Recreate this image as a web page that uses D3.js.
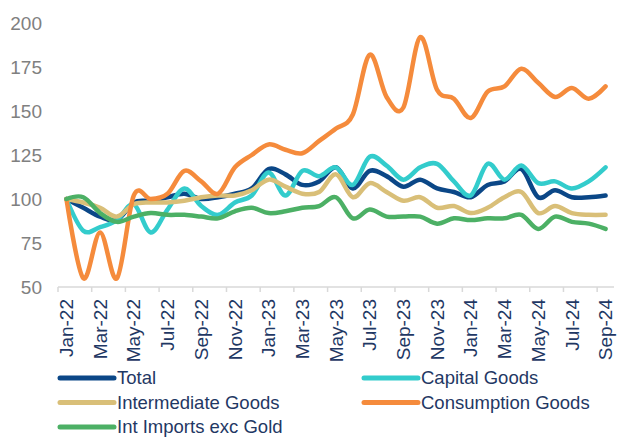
<!DOCTYPE html>
<meta charset="utf-8">
<script src="https://d3js.org/d3.v7.min.js"></script>
<style>
  body { margin: 0; background: #fff; }
  text { font-family: Arial, "Liberation Sans", sans-serif; }
</style>
<body>
<svg width="622" height="437"></svg>
<script>
// monthly index values, Jan-22 .. Sep-24
var months = ["Jan-22","Feb-22","Mar-22","Apr-22","May-22","Jun-22","Jul-22","Aug-22","Sep-22","Oct-22","Nov-22","Dec-22",
  "Jan-23","Feb-23","Mar-23","Apr-23","May-23","Jun-23","Jul-23","Aug-23","Sep-23","Oct-23","Nov-23","Dec-23",
  "Jan-24","Feb-24","Mar-24","Apr-24","May-24","Jun-24","Jul-24","Aug-24","Sep-24"]
var yTicks = [50, 75, 100, 125, 150, 175, 200]

var total        = [100,95,90,88,98,99,101,103,100,101,103,106,117,114,108,110,118,106,116,113,107,111,106,104,101,108,110,117,101,105,101,101,102]
var capital      = [100,82,84,88,97,81,94,106,96,91,98,102,115,102,116,113,118,108,124,119,111,118,120,110,102,120,111,119,109,110,106,110,118]
var intermediate = [100,98,95,90,97,98,98,99,101,102,102,105,111,107,103,104,114,101,109,104,99,101,95,96,92,95,101,104,92,96,92,91,91]
var consumption  = [100,55,81,55,102,100,103,116,110,103,118,125,131,128,126,133,140,148,182,158,152,192,162,157,146,161,164,174,166,158,163,157,164]
var imports      = [100,101,92,87,90,92,91,91,90,89,93,95,92,93,95,96,101,89,94,90,90,90,86,89,88,89,89,91,83,90,87,86,83]

var seriesNames = ["Total","Capital Goods","Intermediate Goods","Consumption Goods","Int Imports exc Gold"]
var seriesColors = ["#0b4787","#33cccc","#d9bf78","#f58b3c","#4cb065"]
var seriesValues = [total, capital, intermediate, consumption, imports]

var svg = d3.select("svg")
var plotLeft = 58, plotRight = 614, plotTop = 23, plotBottom = 287

var x = d3.scaleBand().domain(months).range([plotLeft, plotRight])
var y = d3.scaleLinear().domain([50, 200]).range([plotBottom, plotTop])

// y labels (no axis line)
svg.append("g").selectAll("text")
  .data(yTicks).enter().append("text")
  .attr("x", 42)
  .attr("y", function(d){ return y(d); })
  .attr("dy", "0.35em")
  .attr("text-anchor", "end")
  .style("font-size", "19px")
  .style("fill", "#808080")
  .text(function(d){ return d; })

// x axis line + ticks between every second month
svg.append("line")
  .attr("x1", plotLeft).attr("x2", plotRight)
  .attr("y1", plotBottom).attr("y2", plotBottom)
  .style("stroke", "#d9d9d9").style("stroke-width", 1.5)

svg.append("g").selectAll("line")
  .data(months.filter(function(d,i){ return i % 2 == 0; })).enter().append("line")
  .attr("x1", function(d){ return x(d); }).attr("x2", function(d){ return x(d); })
  .attr("y1", plotBottom).attr("y2", plotBottom + 5)
  .style("stroke", "#d9d9d9").style("stroke-width", 1.5)

svg.append("g").selectAll("text")
  .data(months.filter(function(d,i){ return i % 2 == 0; })).enter().append("text")
  .attr("transform", function(d){ return "translate(" + (x(d) + x.bandwidth()/2) + "," + (plotBottom + 12) + ") rotate(-90)"; })
  .attr("dy", "0.35em")
  .attr("text-anchor", "end")
  .style("font-size", "19px")
  .style("fill", "#1f3864")
  .text(function(d){ return d; })

// lines
var line = d3.line()
  .x(function(d,i){ return x(months[i]) + x.bandwidth()/2; })
  .y(function(d){ return y(d); })
  .curve(d3.curveCatmullRom.alpha(0))

svg.append("g").selectAll("path")
  .data(seriesValues).enter().append("path")
  .attr("d", line)
  .style("fill", "none")
  .style("stroke", function(d,i){ return seriesColors[i]; })
  .style("stroke-width", 4.5)
  .style("stroke-linejoin", "round")
  .style("stroke-linecap", "round")

// legend, two columns
var legend = svg.append("g").selectAll("g")
  .data(seriesNames).enter().append("g")
  .attr("transform", function(d,i){
    return "translate(" + (i % 2 == 0 ? 60 : 364) + "," + (378 + Math.floor(i/2) * 24.5) + ")";
  })
legend.append("line")
  .attr("x1", 0).attr("x2", 54)
  .style("stroke", function(d,i){ return seriesColors[i]; })
  .style("stroke-width", 5)
  .style("stroke-linecap", "round")
legend.append("text")
  .attr("x", 57)
  .attr("dy", "0.35em")
  .style("font-size", "18.5px")
  .style("fill", "#1f3864")
  .text(function(d){ return d; })
</script>
</body>
